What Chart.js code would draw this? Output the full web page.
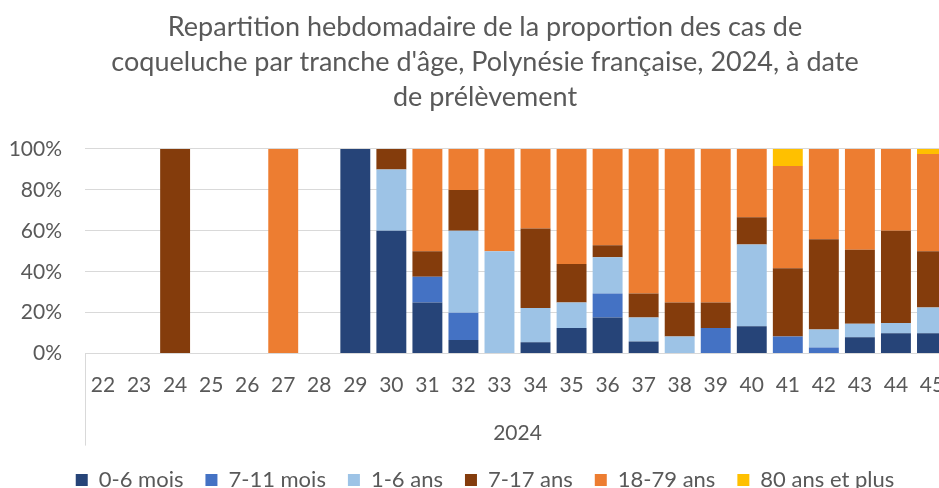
<!DOCTYPE html>
<html><head><meta charset="utf-8">
<script src="https://cdn.jsdelivr.net/npm/chart.js@4.4.0/dist/chart.umd.min.js"></script>
<style>
html,body{margin:0;padding:0;overflow:hidden;background:#fff;}
#wrap{width:970px;height:501px;position:relative;}
</style></head>
<body><div id="wrap"><canvas id="c"></canvas></div>
<script>
const weeks = ['22','23','24','25','26','27','28','29','30','31','32','33','34','35','36','37','38','39','40','41','42','43','44','45'];
const yearLabel = '2024';
const titleLines = ["Repartition hebdomadaire de la proportion des cas de","coqueluche par tranche d'âge, Polynésie française, 2024, à date","de prélèvement"];
const seriesNames = ['0-6 mois','7-11 mois','1-6 ans','7-17 ans','18-79 ans','80 ans et plus'];
const age0_6m   = [0,0,0,0,0,0,0,100,60,25,6.67,0,5.56,12.5,17.65,5.88,0,0,13.33,0,0,8,10,10];
const age7_11m  = [0,0,0,0,0,0,0,0,0,12.5,13.33,0,0,0,11.76,0,0,12.5,0,8.33,2.94,0,0,0];
const age1_6a   = [0,0,0,0,0,0,0,0,30,0,40,50,16.67,12.5,17.65,11.76,8.33,0,40,0,8.82,6.6,5,12.5];
const age7_17a  = [0,0,100,0,0,0,0,0,10,12.5,20,0,38.89,18.75,5.88,11.76,16.67,12.5,13.33,33.33,44.12,36.1,45,27.5];
const age18_79a = [0,0,0,0,0,100,0,0,0,50,20,50,38.89,56.25,47.06,70.59,75,75,33.33,50,44.12,49.3,40,47.5];
const age80p    = [0,0,0,0,0,0,0,0,0,0,0,0,0,0,0,0,0,0,0,8.33,0,0,0,2.5];
const colors = ['#264478','#4472C4','#9DC3E6','#843C0C','#ED7D31','#FFC000'];
const values = [age0_6m, age7_11m, age1_6a, age7_17a, age18_79a, age80p];

const FONT = 'Lato, "Open Sans", sans-serif';
const GRAY = '#595959';

const sepLine = {
  id:'sepLine',
  afterDraw(chart){
    const {ctx, chartArea} = chart;
    ctx.save();
    ctx.strokeStyle = '#d9d9d9';
    ctx.lineWidth = 1;
    ctx.beginPath();
    const x = Math.round(chartArea.left)+0.5;
    ctx.moveTo(x, chartArea.bottom);
    ctx.lineTo(x, chartArea.bottom + 92);
    const x2 = Math.round(chartArea.right)-0.5;
    ctx.moveTo(x2, chartArea.bottom);
    ctx.lineTo(x2, chartArea.bottom + 92);
    ctx.stroke();
    ctx.restore();
  }
};

new Chart(document.getElementById('c'), {
  type:'bar',
  data:{
    labels: weeks,
    datasets: seriesNames.map((n,i)=>({
      label:n, data: values[i], backgroundColor: colors[i], borderWidth:0,
      barPercentage:0.83, categoryPercentage:1
    }))
  },
  options:{
    responsive:true, maintainAspectRatio:false, animation:false,
    layout:{padding:{left:0,right:0,top:0,bottom:0}},
    plugins:{
      title:{display:true, text:titleLines, color:GRAY, font:{family:FONT,size:27,weight:'normal',lineHeight:1.296}, padding:{top:9.5,bottom:34.5}},
      legend:{position:'bottom', labels:{color:GRAY, font:{family:FONT,size:22}, boxWidth:12, boxHeight:12, padding:22}},
      tooltip:{enabled:false}
    },
    scales:{
      x:{stacked:true,
        grid:{display:false},
        border:{display:true,color:'#d9d9d9'},
        ticks:{color:GRAY, font:{family:FONT,size:21}, padding:11, maxRotation:0, autoSkip:false},
        title:{display:true, text:yearLabel, color:GRAY, font:{family:FONT,size:21}, padding:{top:12,bottom:1}}
      },
      y:{stacked:true, min:0, max:100,
        grid:{color:'#d9d9d9', drawTicks:false},
        border:{display:false},
        ticks:{stepSize:20, color:GRAY, font:{family:FONT,size:21}, padding:23, callback:v=>v+'%'},
        afterFit(s){ s.width = 85; }
      },
      yRight:{position:'right', display:true, min:0, max:100,
        grid:{display:false}, border:{display:false}, ticks:{display:false},
        afterFit(s){ s.width = 20; }
      }
    }
  },
  plugins:[sepLine]
});
</script></body></html>
